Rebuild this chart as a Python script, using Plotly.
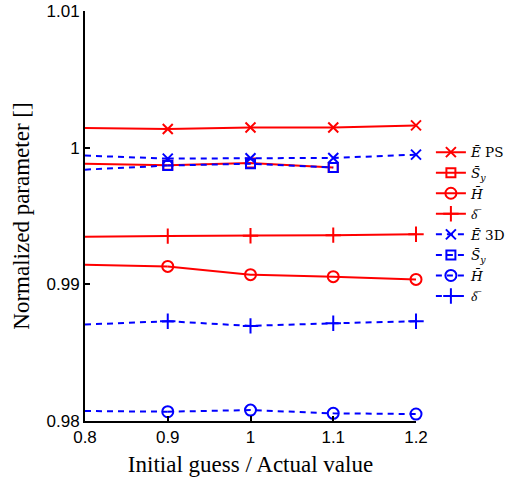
import plotly.graph_objects as go

x_vals = [0.8, 0.9, 1.0, 1.1, 1.2]
x_sy = [0.8, 0.9, 1.0, 1.1]

E_ps = [1.00144, 1.00137, 1.00148, 1.00148, 1.00163]
Sy_ps = [0.99883, 0.99872, 0.99887, 0.99854]
H_ps = [0.99144, 0.99131, 0.99071, 0.99056, 0.99036]
d_ps = [0.99348, 0.99353, 0.99355, 0.99360, 0.99367]

E_3d = [0.99942, 0.99920, 0.99922, 0.99925, 0.99949]
Sy_3d = [0.99839, 0.99869, 0.99883, 0.99854]
H_3d = [0.98073, 0.98068, 0.98080, 0.98056, 0.98051]
d_3d = [0.98706, 0.98730, 0.98696, 0.98715, 0.98730]

DELTA = "<span style='font-family:Liberation Serif'><i>\u03b4\u0305</i></span>"
names = ["<i>E\u0304</i> PS", "<i>S\u0304<sub>y</sub></i>", "<i>H\u0304</i>", DELTA,
         "<i>E\u0304</i> 3D", "<i>S\u0304<sub>y</sub></i>", "<i>H\u0304</i>", DELTA]

RED = "rgb(255,0,0)"
BLUE = "rgb(0,0,255)"

series = [
    (x_vals, E_ps, RED, "solid", "x-thin-open", 10),
    (x_sy, Sy_ps, RED, "solid", "square-open", 9),
    (x_vals, H_ps, RED, "solid", "circle-open", 11),
    (x_vals, d_ps, RED, "solid", "cross-thin-open", 11),
    (x_vals, E_3d, BLUE, "6px,5px", "x-thin-open", 10),
    (x_sy, Sy_3d, BLUE, "6px,5px", "square-open", 9),
    (x_vals, H_3d, BLUE, "6px,5px", "circle-open", 11),
    (x_vals, d_3d, BLUE, "6px,5px", "cross-thin-open", 11),
]

fig = go.Figure()
for (xs, ys, col, dash, sym, sz), nm in zip(series, names):
    fig.add_trace(go.Scatter(
        x=xs[:2], y=ys[:2], mode="lines", showlegend=False,
        line=dict(color=col, width=2, dash=dash), hoverinfo="skip",
        cliponaxis=False))
    fig.add_trace(go.Scatter(
        x=xs[1:], y=ys[1:], mode="lines+markers", name=nm,
        line=dict(color=col, width=2, dash=dash),
        marker=dict(symbol=sym, size=sz, color=col,
                    line=dict(color=col, width=2)),
        cliponaxis=False))

fig.update_layout(
    width=523, height=481,
    margin=dict(l=85, r=107, t=11, b=60),
    plot_bgcolor="white", paper_bgcolor="white",
    font=dict(family="Liberation Sans, Arial", color="black", size=16),
    showlegend=True,
    legend=dict(
        x=1.045, y=0.693, xanchor="left", yanchor="top",
        font=dict(family="DejaVu Serif", size=13.5, color="black"),
        bgcolor="rgba(0,0,0,0)", tracegroupgap=0, itemwidth=30,
    ),
    xaxis=dict(
        range=[0.8, 1.2], tickvals=[0.8, 0.9, 1.0, 1.1, 1.2],
        ticktext=["0.8", "0.9", "1", "1.1", "1.2"],
        ticks="inside", ticklen=5, tickwidth=1.5, tickcolor="black",
        showline=True, linecolor="black", linewidth=2,
        showgrid=False, zeroline=False, automargin=False,
        tickfont=dict(size=17),
        title=dict(text="Initial guess / Actual value",
                   font=dict(family="Liberation Serif, DejaVu Serif", size=23),
                   standoff=9),
    ),
    yaxis=dict(
        range=[0.98, 1.01], tickvals=[0.98, 0.99, 1.0, 1.01],
        ticktext=["0.98", "0.99", "1", "1.01"],
        ticks="inside", ticklen=5, tickwidth=1.5, tickcolor="black",
        showline=True, linecolor="black", linewidth=2,
        showgrid=False, zeroline=False, automargin=False,
        tickfont=dict(size=17),
        title=dict(text="Normalized parameter []",
                   font=dict(family="Liberation Serif, DejaVu Serif", size=23),
                   standoff=10),
    ),
)

fig.write_html("out.html", config={"displayModeBar": False},
               post_script="document.body.style.margin='0px';")
